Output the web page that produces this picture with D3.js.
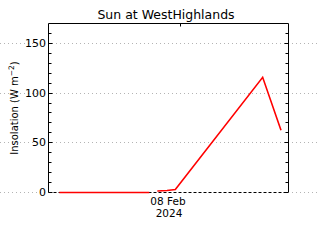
<!DOCTYPE html>
<html><head><meta charset="utf-8">
<script src="https://cdn.jsdelivr.net/npm/d3@7"></script>
<style>body{margin:0;background:#fff}svg{display:block}text{font-family:"DejaVu Sans",sans-serif;fill:#000}</style>
</head><body>
<script>
// data (times on 08 Feb 2024, values in W m^-2)
const seg1Times = ["2024-02-08T00:34", "2024-02-08T05:04"];
const seg1Values = [-1, -1];
const seg2Times = ["2024-02-08T05:28", "2024-02-08T05:57", "2024-02-08T06:22", "2024-02-08T10:44", "2024-02-08T11:39"];
const seg2Values = [0.5, 1, 2, 115.5, 62];
const yTicks = [0, 50, 100, 150];
const xLabel = ["08 Feb", "2024"];
const xLabelTime = "2024-02-08T06:00";
const topTickTime = "2024-02-08T06:36";

const W = 320, H = 240;
const m = {l: 48, r: 32, t: 23, b: 48.5};
const svg = d3.select("body").append("svg").attr("width", W).attr("height", H);
const parse = d3.isoParse;
const x = d3.scaleTime().domain([parse("2024-02-08T00:00"), parse("2024-02-08T12:00")]).range([m.l, W - m.r]);
const y = d3.scaleLinear().domain([0, 170.5]).range([H - m.b, m.t]);

// gridlines across full width
svg.append("g").selectAll("line").data(yTicks).join("line")
  .attr("x1", 0).attr("x2", W).attr("y1", d => Math.round(y(d)) + 0.5).attr("y2", d => Math.round(y(d)) + 0.5)
  .attr("stroke", "#b4b4b4").attr("stroke-dasharray", "1,3");

const x0 = m.l + 0.5, x1 = W - m.r + 0.5, yT = m.t + 0.5, yB = Math.round(y(0)) + 0.5;
// white over grid inside plot for y=0 then dashed axis
const frame = svg.append("g").attr("stroke", "#000").attr("fill", "none");
frame.append("line").attr("x1", x0).attr("x2", x0).attr("y1", yT).attr("y2", yB);
frame.append("line").attr("x1", x1).attr("x2", x1).attr("y1", yT).attr("y2", yB);
frame.append("line").attr("x1", x0).attr("x2", x1).attr("y1", yT).attr("y2", yT);
svg.append("line").attr("x1", x0).attr("x2", x1).attr("y1", yB).attr("y2", yB).attr("stroke", "#fff");
svg.append("line").attr("x1", x0).attr("x2", x1).attr("y1", yB).attr("y2", yB).attr("stroke", "#000").attr("stroke-dasharray", "3,2");

// ticks
const minor = d3.range(10, 170, 10).filter(v => v % 50 !== 0);
const tg = svg.append("g").attr("stroke", "#000");
minor.forEach(v => {
  const yy = Math.round(y(v)) + 0.5;
  tg.append("line").attr("x1", x0).attr("x2", x0 + 3).attr("y1", yy).attr("y2", yy);
  tg.append("line").attr("x1", x1).attr("x2", x1 - 3).attr("y1", yy).attr("y2", yy);
});
yTicks.forEach(v => {
  const yy = Math.round(y(v)) + 0.5;
  tg.append("line").attr("x1", x0).attr("x2", x0 + 4).attr("y1", yy).attr("y2", yy);
  tg.append("line").attr("x1", x1).attr("x2", x1 - 4).attr("y1", yy).attr("y2", yy);
});
const tx = Math.round(x(parse(topTickTime))) + 0.5;
tg.append("line").attr("x1", tx).attr("x2", tx).attr("y1", yT).attr("y2", yT + 3);

// y tick labels
svg.append("g").selectAll("text").data(yTicks).join("text")
  .attr("x", 46).attr("y", d => y(d) + 4).attr("text-anchor", "end").attr("font-size", 11).text(d => d);

// x labels
const lx = x(parse(xLabelTime));
svg.append("text").attr("x", lx).attr("y", 205).attr("text-anchor", "middle").attr("font-size", 10.5).text(xLabel[0]);
svg.append("text").attr("x", lx + 1).attr("y", 217).attr("text-anchor", "middle").attr("font-size", 10.5).text(xLabel[1]);

// title
svg.append("text").attr("x", 166).attr("y", 19).attr("text-anchor", "middle").attr("font-size", 12.5).text("Sun at WestHighlands");

// y label
const yl = svg.append("text").attr("transform", "translate(18,108) rotate(-90)").attr("text-anchor", "middle").attr("font-size", 10);
yl.append("tspan").text("Insolation (W m");
yl.append("tspan").attr("dy", -4).attr("font-size", 7.5).text("−2");
yl.append("tspan").attr("dy", 4).text(")");

// data lines
const line = d3.line().x(d => x(d[0])).y(d => y(d[1]));
[[seg1Times, seg1Values], [seg2Times, seg2Values]].forEach(([t, v]) => {
  svg.append("path").datum(t.map((s, i) => [parse(s), v[i]])).attr("d", line)
    .attr("fill", "none").attr("stroke", "#ff0000").attr("stroke-width", 1.6);
});
</script>
</body></html>
